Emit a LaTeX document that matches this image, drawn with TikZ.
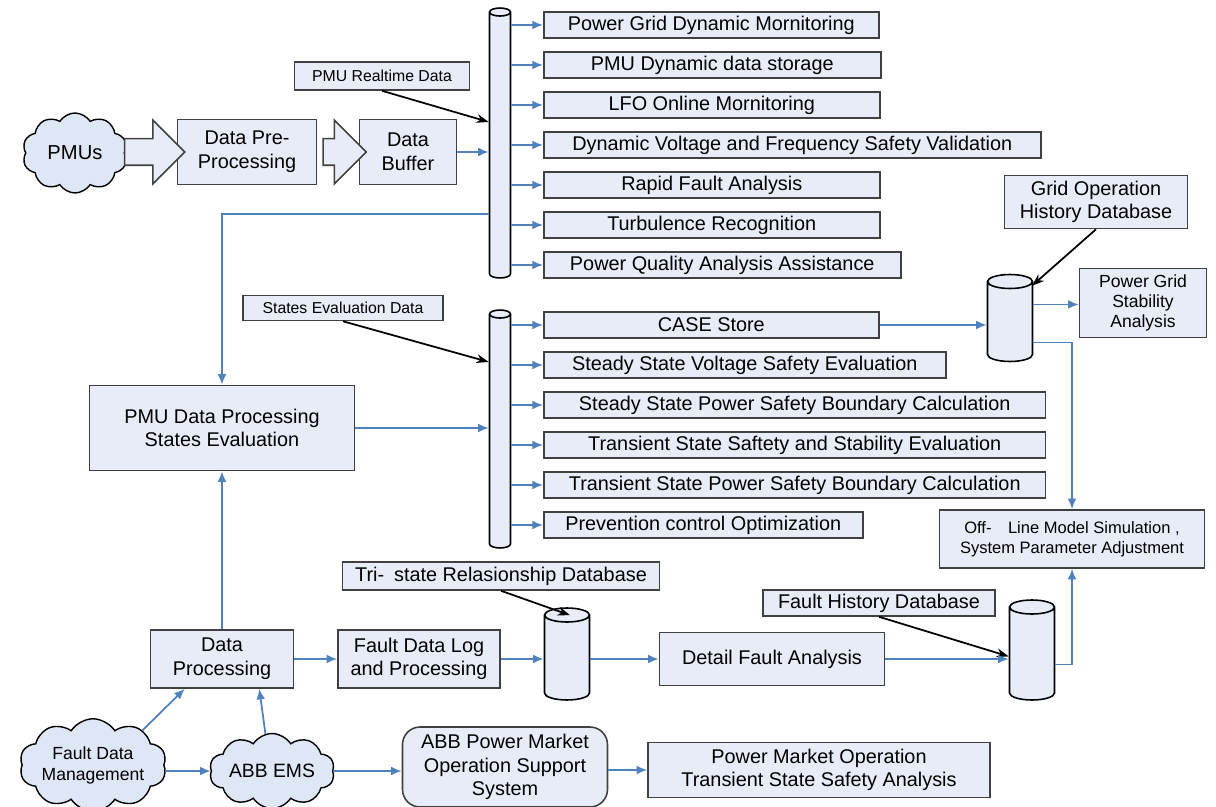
\documentclass[tikz,border=0pt]{standalone}
\usepackage{fontspec}
\setmainfont{Liberation Sans}
\usetikzlibrary{shapes.geometric,shapes.symbols,shapes.arrows,arrows.meta,calc}
\definecolor{boxfill}{RGB}{232,236,248}
\definecolor{cloudfill}{RGB}{222,231,245}
\definecolor{linkblue}{RGB}{79,129,189}
\begin{document}
\begin{tikzpicture}[x=0.02cm,y=-0.02cm,
  box/.style={draw=black!75,line width=0.9pt,fill=boxfill,inner sep=0pt,align=center,font=\fontsize{11.3}{13.5}\selectfont},
  tag/.style={box,font=\fontsize{9}{11}\selectfont},
  bus/.style={cylinder,shape border rotate=90,anchor=shape center,draw=black,line width=0.9pt,fill=boxfill,aspect=1,inner sep=0.08cm,minimum width=0.42cm},
  db/.style={bus,inner sep=0.14cm,minimum width=0.9cm},
  puff/.style={cloud,cloud puffs=10,cloud puff arc=115,cloud ignores aspect,draw=black,line width=0.8pt,fill=cloudfill,inner sep=0pt,align=center},
  fat/.style={single arrow,draw=black!75,line width=0.9pt,fill=boxfill,inner xsep=0pt,inner ysep=0.25cm,single arrow head extend=0.37cm},
  link/.style={draw=linkblue,line width=1pt,-{Latex[length=6pt,width=5pt]}},
  pointer/.style={draw=black,line width=1pt,-{Stealth[length=7pt,width=5pt]}}]
\useasboundingbox (0,0) rectangle (1216,807);
% PMU input chain
\node[puff,minimum width=2.1cm,minimum height=1.6cm,font=\fontsize{11.5}{13}\selectfont] (pmus) at (75,153) {PMUs};
\node[box,minimum width=2.78cm,minimum height=1.3cm] (pre) at (247,152) {Data Pre-\\Processing};
\node[box,minimum width=1.94cm,minimum height=1.3cm] (buf) at (408,152) {Data\\Buffer};
\node[fat,minimum height=1.2cm] (arr1) at (148,152) {};
\node[fat,minimum height=0.86cm] (arr2) at (338,152) {};
\node[tag,minimum width=3.5cm,minimum height=0.56cm] (rt) at (382,76) {PMU Realtime Data};
\node[bus,minimum height=5.4cm] (bus1) at (500,143) {};
% dynamic applications
\node[box,anchor=west,minimum width=6.7cm,minimum height=0.52cm] (t1) at (543,25) {Power Grid Dynamic Mornitoring};
\node[box,anchor=west,minimum width=6.74cm,minimum height=0.52cm] (t2) at (543,65) {PMU Dynamic data storage};
\node[box,anchor=west,minimum width=6.72cm,minimum height=0.52cm] (t3) at (543,105) {LFO Online Mornitoring};
\node[box,anchor=west,minimum width=9.94cm,minimum height=0.52cm] (t4) at (543,145) {Dynamic Voltage and Frequency Safety Validation};
\node[box,anchor=west,minimum width=6.72cm,minimum height=0.52cm] (t5) at (543,185) {Rapid Fault Analysis};
\node[box,anchor=west,minimum width=6.72cm,minimum height=0.52cm] (t6) at (543,225) {Turbulence Recognition};
\node[box,anchor=west,minimum width=7.14cm,minimum height=0.52cm] (t7) at (543,265) {Power Quality Analysis Assistance};
% states evaluation
\node[box,minimum width=5.3cm,minimum height=1.7cm] (proc) at (222,428) {PMU Data Processing\\States Evaluation};
\node[tag,minimum width=4cm,minimum height=0.5cm] (se) at (343,308) {States Evaluation Data};
\node[bus,minimum height=4.76cm] (bus2) at (500,429) {};
\node[box,anchor=west,minimum width=6.7cm,minimum height=0.52cm] (c1) at (543,325) {CASE Store};
\node[box,anchor=west,minimum width=8.04cm,minimum height=0.52cm] (c2) at (543,365) {Steady State Voltage Safety Evaluation};
\node[box,anchor=west,minimum width=10.04cm,minimum height=0.52cm] (c3) at (543,405) {Steady State Power Safety Boundary Calculation};
\node[box,anchor=west,minimum width=10.04cm,minimum height=0.52cm] (c4) at (543,445) {Transient State Saftety and Stability Evaluation};
\node[box,anchor=west,minimum width=10.04cm,minimum height=0.52cm] (c5) at (543,485) {Transient State Power Safety Boundary Calculation};
\node[box,anchor=west,minimum width=6.38cm,minimum height=0.52cm] (c6) at (543,525) {Prevention control Optimization};
% databases on the right
\node[box,minimum width=3.66cm,minimum height=1.06cm] (gridop) at (1096,202) {Grid Operation\\History Database};
\node[db,minimum height=1.74cm] (griddb) at (1010,318) {};
\node[tag,minimum width=2.54cm,minimum height=1.38cm,font=\fontsize{10}{11.5}\selectfont] (stab) at (1143,303) {Power Grid\\Stability\\Analysis};
\node[tag,minimum width=5.3cm,minimum height=1.16cm,font=\fontsize{9.4}{11.5}\selectfont] (offline) at (1072,539) {Off-\quad Line Model Simulation ,\\System Parameter Adjustment};
\node[box,minimum width=4.64cm,minimum height=0.52cm] (fh) at (879,603) {Fault History Database};
\node[db,minimum height=2cm] (faultdb) at (1032,650) {};
\coordinate (gridout) at ($(griddb.east)+(0,-20)$);
\coordinate (gridoff) at ($(griddb.east)+(0,18)$);
\coordinate (faultoff) at ($(faultdb.east)+(0,8)$);
% fault chain
\node[box,minimum width=2.86cm,minimum height=1.16cm] (dproc) at (222,659) {Data\\Processing};
\node[box,minimum width=3.24cm,minimum height=1.16cm] (flog) at (419,659) {Fault Data Log\\and Processing};
\node[box,minimum width=6.34cm,minimum height=0.56cm] (tsl) at (501,576) {Tri-\enspace state Relasionship Database};
\node[db,minimum height=1.84cm] (tri) at (567,654) {};
\node[box,minimum width=4.5cm,minimum height=1.06cm] (detail) at (772,659) {Detail Fault Analysis};
% market chain
\node[puff,minimum width=2.86cm,minimum height=1.85cm,font=\fontsize{10}{12}\selectfont] (fdm) at (93,765) {Fault Data\\Management};
\node[puff,minimum width=2.5cm,minimum height=1.5cm,font=\fontsize{11}{13}\selectfont] (ems) at (272,771) {ABB EMS};
\node[box,rounded corners=0.35cm,minimum width=4.1cm,minimum height=1.6cm] (abbpm) at (505,767) {ABB Power Market\\Operation Support\\System};
\node[box,minimum width=6.84cm,minimum height=1.1cm] (pm) at (819,770) {Power Market Operation\\Transient State Safety Analysis};
% connectors
\draw[link] (buf.east) -- (buf.east -| bus1.west);
\draw[pointer] (rt.south) -- ($(bus1.west)+(0,-25)$);
\draw[link] (bus1.east |- t1.west) -- (t1.west);
\draw[link] (bus1.east |- t2.west) -- (t2.west);
\draw[link] (bus1.east |- t3.west) -- (t3.west);
\draw[link] (bus1.east |- t4.west) -- (t4.west);
\draw[link] (bus1.east |- t5.west) -- (t5.west);
\draw[link] (bus1.east |- t6.west) -- (t6.west);
\draw[link] (bus1.east |- t7.west) -- (t7.west);
\draw[link] ($(bus1.west)+(0,67)$) -| (proc.north);
\draw[link] (proc.east) -- (proc.east -| bus2.west);
\draw[pointer] (se.south) -- ($(bus2.west)+(0,-71)$);
\draw[link] (bus2.east |- c1.west) -- (c1.west);
\draw[link] (bus2.east |- c2.west) -- (c2.west);
\draw[link] (bus2.east |- c3.west) -- (c3.west);
\draw[link] (bus2.east |- c4.west) -- (c4.west);
\draw[link] (bus2.east |- c5.west) -- (c5.west);
\draw[link] (bus2.east |- c6.west) -- (c6.west);
\draw[link] (c1.east) -- (c1.east -| griddb.west);
\draw[pointer] (gridop.south) -- ($(griddb.north)+(22,12)$);
\draw[link] (gridout) -- (gridout -| stab.west);
\draw[link] (gridoff) -| (offline.north);
\draw[link] (faultoff) -| (offline.south);
\draw[pointer] (fh.south) -- (faultdb.west);
\draw[link] (dproc.north) -- (proc.south);
\draw[link] (dproc.east) -- (flog.west);
\draw[link] (flog.east) -- (flog.east -| tri.west);
\draw[pointer] (tsl.south) -- ($(tri.north)+(3,8)$);
\draw[link] (tri.east |- detail.west) -- (detail.west);
\draw[link] (detail.east) -- (detail.east -| faultdb.west);
\draw[link] (fdm.35) -- ($(dproc.south west)+(35,0)$);
\draw[link] (ems.100) -- ($(dproc.south east)+(-35,0)$);
\draw[link] (fdm.east |- ems.west) -- (ems.west);
\draw[link] (ems.east) -- (abbpm.west |- ems.east);
\draw[link] (abbpm.east |- pm.west) -- (pm.west);
\end{tikzpicture}
\end{document}
